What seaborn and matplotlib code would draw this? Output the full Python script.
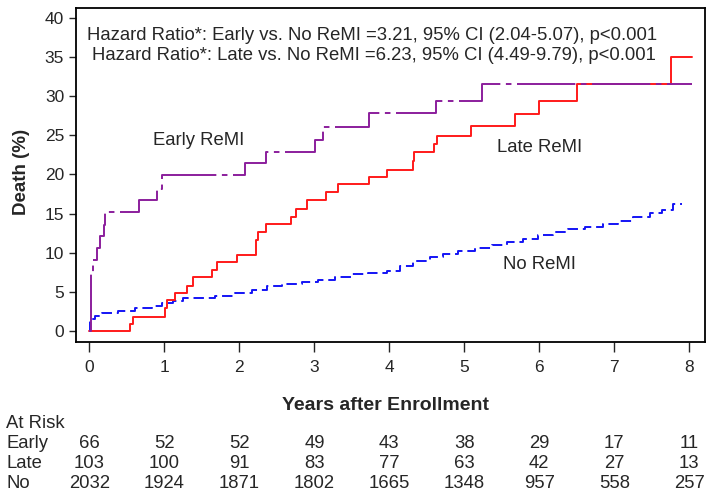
import numpy as np
import pandas as pd
import matplotlib
matplotlib.use("Agg")
import matplotlib.pyplot as plt
import matplotlib.transforms as mtransforms
import seaborn as sns

# Kaplan-Meier style curves (years, % death)
early_t = [0, 0.02, 0.05, 0.10, 0.14, 0.19, 0.21, 0.66, 0.90, 0.97, 2.08, 2.36,
           3.01, 3.11, 3.73, 4.62, 5.23, 8.03]
early_y = [0, 7.6, 9.1, 10.6, 12.1, 13.6, 15.2, 16.7, 18.2, 19.9, 21.4, 22.9,
           24.4, 26.0, 27.8, 29.4, 31.5, 31.5]

late_t = [0, 0.54, 0.58, 1.01, 1.04, 1.14, 1.30, 1.38, 1.63, 1.70, 1.97, 2.22,
          2.25, 2.36, 2.69, 2.76, 2.90, 3.16, 3.31, 3.73, 3.97, 4.31, 4.33, 4.60,
          4.63, 5.09, 5.68, 5.99, 6.50, 7.75, 8.03]
late_y = [0, 0.9, 1.8, 3.0, 3.9, 4.8, 5.8, 6.9, 7.8, 8.8, 9.7, 11.6,
          12.6, 13.7, 14.6, 15.6, 16.7, 17.7, 18.8, 19.7, 20.6, 21.7, 22.8, 23.9,
          24.9, 26.2, 27.7, 29.4, 31.5, 35.0, 35.0]

no_t = [0, 0.01, 0.08, 0.165, 0.38, 0.61, 0.83, 0.97, 1.12, 1.25, 1.68, 1.94,
        2.17, 2.37, 2.57, 2.83, 3.05, 3.28, 3.50, 3.72, 3.97, 4.14, 4.31, 4.54,
        4.72, 4.92, 5.14, 5.37, 5.57, 5.78, 5.98, 6.18, 6.38, 6.61, 6.85, 7.05,
        7.25, 7.48, 7.63, 7.78, 7.90]
no_y = [0, 1.5, 1.9, 2.26, 2.6, 2.9, 3.2, 3.55, 3.87, 4.18, 4.47, 4.9,
        5.3, 5.75, 6.0, 6.2, 6.5, 6.9, 7.3, 7.45, 7.7, 8.3, 8.9, 9.5,
        9.8, 10.25, 10.55, 11.0, 11.4, 11.7, 12.3, 12.7, 13.0, 13.25, 13.65, 14.1,
        14.5, 15.1, 15.5, 16.2, 16.2]

# numbers at risk
risk_years = [0, 1, 2, 3, 4, 5, 6, 7, 8]
risk_early = [66, 52, 52, 49, 43, 38, 29, 17, 11]
risk_late = [103, 100, 91, 83, 77, 63, 42, 27, 13]
risk_no = [2032, 1924, 1871, 1802, 1665, 1348, 957, 558, 257]

hr_lines = ["Hazard Ratio*: Early vs. No ReMI =3.21, 95% CI (2.04-5.07), p<0.001",
            "Hazard Ratio*: Late vs. No ReMI =6.23, 95% CI (4.49-9.79), p<0.001"]

sns.set_style("ticks")
plt.rcParams["font.family"] = ["Liberation Sans", "DejaVu Sans"]
plt.rcParams["lines.scale_dashes"] = False

fig = plt.figure(figsize=(7.14, 4.97), dpi=100)
ax = fig.add_axes([0.1064, 0.3119, 0.8810, 0.6720])

purple = "#8B1E9C"
red = "#FF1A1A"
blue = "#1414F5"

sns.lineplot(x=no_t, y=no_y, ax=ax, color=blue, lw=1.4, drawstyle="steps-post",
             estimator=None, sort=False, linestyle=(0, (7.5, 3.5)))
sns.lineplot(x=late_t, y=late_y, ax=ax, color=red, lw=1.4, drawstyle="steps-post",
             estimator=None, sort=False)
sns.lineplot(x=early_t, y=early_y, ax=ax, color=purple, lw=1.4, drawstyle="steps-post",
             estimator=None, sort=False, linestyle=(0, (42, 4, 4, 4)))

ax.set_xlim(-0.18, 8.21)
ax.set_ylim(-1.4, 41.25)
ax.set_xticks(risk_years)
ax.set_yticks(range(0, 41, 5))
ax.tick_params(axis="x", length=7, width=1, pad=6, labelsize=12.5)
ax.tick_params(axis="y", length=5, width=1, pad=3.5, labelsize=12.5)
for s in ax.spines.values():
    s.set_visible(True)
    s.set_linewidth(1.3)
    s.set_color("black")
ax.set_xlabel("")
ax.set_ylabel("")

fs = 13.3
ax.text(3.77, 37.7, hr_lines[0], ha="center", va="center", fontsize=fs)
ax.text(3.79, 35.2, hr_lines[1], ha="center", va="center", fontsize=fs)
ax.text(1.45, 24.3, "Early ReMI", ha="center", va="center", fontsize=fs)
ax.text(6.0, 23.4, "Late ReMI", ha="center", va="center", fontsize=fs)
ax.text(6.0, 8.45, "No ReMI", ha="center", va="center", fontsize=fs)

fig.text(22 / 714, 1 - 172 / 497, "Death (%)", rotation=90, ha="center", va="center",
         fontsize=13.5, fontweight="bold")
fig.text(385 / 714, 1 - 405 / 497, "Years after Enrollment", ha="center", va="center",
         fontsize=14, fontweight="bold")

# at-risk table
trans = mtransforms.blended_transform_factory(ax.transData, fig.transFigure)
fig.text(6 / 714, 1 - 423 / 497, "At Risk", ha="left", va="center", fontsize=fs)
rows = [("Early", risk_early, 443), ("Late", risk_late, 463), ("No", risk_no, 483)]
for name, vals, ypx in rows:
    fig.text(6 / 714, 1 - ypx / 497, name, ha="left", va="center", fontsize=fs)
    for yr, v in zip(risk_years, vals):
        ax.text(yr, 1 - ypx / 497, str(v), transform=trans, ha="center", va="center",
                fontsize=fs, clip_on=False)

fig.savefig("out.png", dpi=100)
